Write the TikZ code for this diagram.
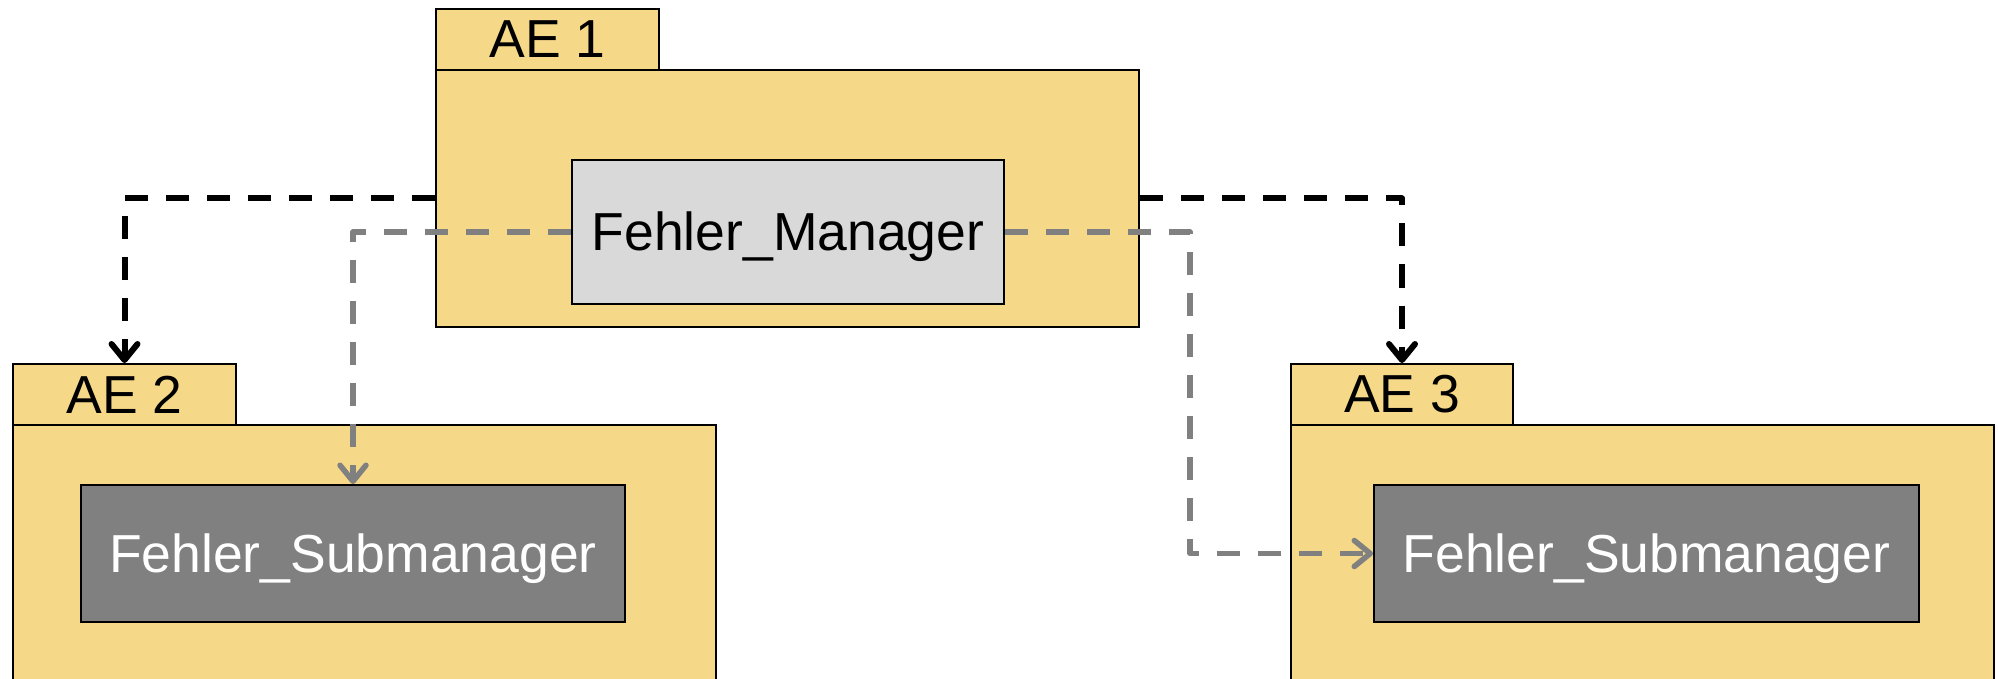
\documentclass[tikz,border=0pt]{standalone}
\usepackage{fontspec}
\setmainfont{Liberation Sans}
\usetikzlibrary{arrows.meta}
\definecolor{pkgyellow}{HTML}{F5D888}
\definecolor{mgrlight}{HTML}{D9D9D9}
\definecolor{mgrdark}{HTML}{808080}
\definecolor{linegray}{HTML}{808080}
\tikzset{
  box/.style={draw=black, line width=2pt, inner sep=0pt, anchor=north west,
    font=\fontsize{53.5}{60}\selectfont},
  pkg/.style={box, fill=pkgyellow},
  mgr/.style={box, fill=mgrlight, text=black, text height=46pt, text depth=9pt},
  submgr/.style={box, fill=mgrdark, text=white, text height=46pt, text depth=9pt},
  blackdep/.style={draw=black, line width=6pt, dash pattern=on 23pt off 18pt,
    line join=round,
    -{Straight Barb[length=16pt,width=26pt,line cap=round,line join=round]}},
  graydep/.style={draw=linegray, line width=5.5pt, dash pattern=on 23pt off 18pt,
    line join=round,
    -{Straight Barb[length=16pt,width=26pt,line cap=round,line join=round]}}
}
\begin{document}
\begin{tikzpicture}[x=1pt,y=-1pt]
\clip (0,0) rectangle (1998,679);
\fill[white] (0,0) rectangle (1998,679);
% AE 1
\node[pkg, minimum width=223pt, minimum height=61pt] (ae1tab) at (435,8) {AE 1};
\node[pkg, minimum width=703pt, minimum height=257pt] (ae1) at (435,69) {};
\node[mgr, minimum width=432pt, minimum height=144pt] (fm) at (571,159) {Fehler\_Manager};
% AE 2
\node[pkg, minimum width=223pt, minimum height=61pt] (ae2tab) at (12,363) {AE 2};
\node[pkg, minimum width=703pt, minimum height=290pt] (ae2) at (12,424) {};
\node[submgr, minimum width=544pt, minimum height=137pt] (sm2) at (80,484) {Fehler\_Submanager};
% AE 3
\node[pkg, minimum width=222pt, minimum height=61pt] (ae3tab) at (1290,363) {AE 3};
\node[pkg, minimum width=703pt, minimum height=290pt] (ae3) at (1290,424) {};
\node[submgr, minimum width=545pt, minimum height=137pt] (sm3) at (1373,484) {Fehler\_Submanager};
% connectors
\draw[blackdep] (ae1.west) -| (ae2tab.north);
\draw[blackdep] (ae1.east) -| (ae3tab.north);
\draw[graydep] (fm.west) -| (sm2.north);
\draw[graydep] (fm.east) -- ++(185,0) |- (sm3.west);
\end{tikzpicture}
\end{document}
